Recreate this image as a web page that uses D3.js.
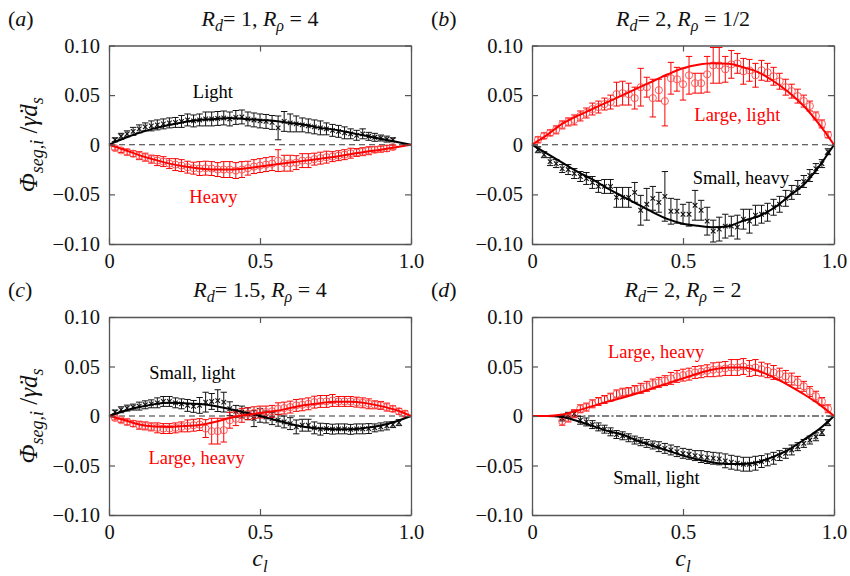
<!DOCTYPE html>
<html>
<head>
<meta charset="utf-8">
<script src="https://cdn.jsdelivr.net/npm/d3@7"></script>
<style>
  body { margin: 0; background: #fff; }
  svg { display: block; }
</style>
</head>
<body>
<svg id="fig" width="850" height="576"></svg>
<script>
// ---- data -------------------------------------------------------------
// sampling positions of the simulation data (c_l)
const cGrid = [0.02,0.04,0.06,0.08,0.10,0.12,0.14,0.16,0.18,0.20,0.22,0.24,0.26,0.28,0.30,0.32,0.34,0.36,0.38,0.40,
  0.42,0.44,0.46,0.48,0.50,0.52,0.54,0.56,0.58,0.60,0.62,0.64,0.66,0.68,0.70,0.72,0.74,0.76,0.78,0.80,
  0.82,0.84,0.86,0.88,0.90,0.92,0.94,0.96,0.98];
// positions of the continuum-model curves
const modelGrid = [0,0.05,0.10,0.15,0.20,0.25,0.30,0.35,0.40,0.45,0.50,0.55,0.60,0.65,0.70,0.75,0.80,0.85,0.90,0.95,1.0];

const yTicks = [-0.10,-0.05,0,0.05,0.10];
const xTicks = [0,0.5,1.0];

const panelLetters = ['a','b','c','d'];
const ratioD = ['1','2','1.5','2'];
const ratioRho = ['4','1/2','4','2'];

// (a) R_d = 1, R_rho = 4
const aLight = [.005,.0085,.011,.0135,.016,.018,.019,.020,.021,.022,
  .0225,.0235,.025,.024,.025,.026,.026,.0265,.027,.026,
  .0275,.028,.026,.025,.024,.0235,.0225,.017,.0235,.022,
  .021,.020,.019,.018,.017,.016,.0145,.0135,.012,.011,
  .0095,.011,.0085,.0075,.0068,.0057,.005];
const aLightErr = [.002,.003,.003,.004,.004,.004,.005,.005,.005,.005,
  .005,.006,.006,.006,.006,.007,.007,.007,.007,.007,
  .007,.007,.007,.007,.007,.007,.007,.012,.010,.009,
  .008,.007,.007,.007,.007,.006,.006,.006,.006,.005,
  .005,.005,.004,.004,.003,.003,.002];
const aHeavy = [-.0034,-.0057,-.0074,-.009,-.011,-.0125,-.0145,-.016,-.017,-.019,
  -.020,-.021,-.0226,-.0236,-.024,-.0236,-.024,-.025,-.025,-.025,
  -.026,-.025,-.0236,-.022,-.021,-.020,-.019,-.016,-.0186,-.0186,
  -.018,-.016,-.016,-.0145,-.0135,-.0125,-.012,-.011,-.010,-.0085,
  -.0078,-.007,-.006,-.005,-.0044,-.0037,-.0024];
const aHeavyErr = [.002,.002,.003,.003,.004,.004,.004,.005,.005,.005,
  .006,.006,.006,.006,.007,.007,.007,.007,.008,.008,
  .008,.008,.007,.007,.007,.007,.007,.011,.008,.008,
  .007,.007,.007,.006,.006,.006,.005,.005,.005,.005,
  .004,.004,.004,.003,.003,.003,.002];
const aLightModel = [0,.0065,.012,.0165,.020,.023,.025,.026,.027,.026,.025,.024,.022,.020,.017,.015,.012,.009,.006,.003,0];
const aHeavyModel = [0,-.005,-.0105,-.015,-.019,-.022,-.024,-.025,-.025,-.024,-.022,-.020,-.018,-.016,-.014,-.012,-.0095,-.007,-.005,-.0025,0];

// (b) R_d = 2, R_rho = 1/2
const bLarge = [.005,.009,.012,.015,.020,.023,.025,.029,.032,.036,
  .038,.041,.043,.051,.052,.051,.047,.058,.058,.047,
  .055,.044,.067,.066,.061,.070,.062,.062,.071,.080,
  .080,.076,.081,.082,.074,.075,.070,.075,.073,.069,
  .064,.058,.054,.049,.044,.039,.029,.021,.010];
const bLargeErr = [.003,.003,.003,.004,.004,.004,.005,.005,.005,.006,
  .006,.006,.007,.012,.012,.011,.011,.019,.010,.019,
  .011,.025,.016,.012,.016,.019,.010,.010,.018,.018,
  .018,.013,.014,.010,.013,.011,.012,.010,.009,.009,
  .008,.008,.007,.007,.006,.005,.004,.004,.003];
const bSmall = [-.005,-.010,-.017,-.019,-.024,-.025,-.029,-.032,-.034,-.038,
  -.042,-.042,-.042,-.053,-.053,-.053,-.048,-.066,-.060,-.054,
  -.058,-.052,-.067,-.067,-.070,-.070,-.061,-.066,-.077,-.087,
  -.085,-.082,-.082,-.083,-.075,-.077,-.071,-.070,-.068,-.063,
  -.060,-.054,-.048,-.043,-.037,-.031,-.024,-.019,-.007];
const bSmallErr = [.003,.003,.004,.004,.004,.005,.005,.005,.006,.006,
  .006,.007,.007,.010,.010,.010,.010,.015,.016,.012,
  .010,.025,.013,.012,.010,.012,.015,.010,.014,.011,
  .012,.012,.010,.012,.010,.012,.010,.009,.009,.008,
  .008,.008,.007,.007,.006,.006,.005,.004,.003];
const bLargeModel = [0,.010,.021,.029,.036,.043,.050,.057,.064,.071,.077,.0805,.082,.0815,.078,.073,.064,.053,.039,.021,0];
const bSmallModel = [0,-.009,-.018,-.027,-.035,-.044,-.052,-.060,-.068,-.075,-.0795,-.0816,-.083,-.082,-.0765,-.072,-.064,-.052,-.040,-.022,0];

// (c) R_d = 1.5, R_rho = 4
const cSmall = [.004,.0063,.008,.009,.010,.0113,.0123,.0133,.0147,.0147,
  .0133,.0123,.0107,.0097,.0107,.014,.0147,.0155,.014,.0073,
  .0047,.004,.0023,-.0027,.0007,-.001,-.0027,-.0043,-.006,-.0077,
  -.011,-.0093,-.0093,-.012,-.0133,-.0127,-.0133,-.013,-.013,-.0135,
  -.013,-.013,-.0127,-.012,-.011,-.010,-.0087,-.0067];
const cSmallErr = [.002,.003,.003,.003,.004,.004,.004,.005,.005,.005,
  .005,.005,.006,.006,.008,.010,.008,.011,.010,.007,
  .006,.006,.006,.008,.007,.006,.006,.006,.006,.006,
  .007,.006,.006,.006,.006,.005,.005,.005,.005,.005,
  .005,.005,.005,.004,.004,.004,.003,.003];
const cLarge = [-.002,-.0043,-.006,-.0077,-.0093,-.010,-.011,-.012,-.0127,-.0127,
  -.012,-.011,-.010,-.0093,-.0087,-.0127,-.0153,-.0153,-.0143,-.0043,
  -.0027,.0007,.0023,.0033,.004,.004,.0047,.0073,.008,.009,
  .0107,.0113,.0123,.014,.0147,.0147,.0157,.0147,.0147,.0147,
  .014,.0133,.0123,.0113,.0107,.009,.0073,.0047,.0023];
const cLargeErr = [.002,.002,.003,.003,.004,.004,.004,.005,.005,.005,
  .005,.005,.006,.006,.006,.009,.013,.013,.012,.008,
  .007,.007,.006,.006,.006,.006,.006,.006,.006,.006,
  .006,.006,.006,.006,.006,.006,.006,.005,.005,.005,
  .005,.005,.005,.004,.004,.004,.003,.003,.003];
const cSmallModel = [0,.005,.009,.012,.0133,.013,.012,.010,.007,.0035,0,-.004,-.008,-.011,-.0127,-.0135,-.0135,-.012,-.0095,-.0055,0];
const cLargeModel = [0,-.004,-.0085,-.0105,-.011,-.010,-.009,-.006,-.002,.001,.003,.005,.008,.011,.013,.0145,.0145,.013,.010,.006,0];

// (d) R_d = 2, R_rho = 2  (data start at c_l = 0.10)
const dLarge = [-.0053,-.002,.0023,.0073,.009,.0123,.0147,.0167,.019,.0223,
  .024,.0247,.0267,.028,.030,.0323,.034,.0357,.038,.040,
  .0413,.0423,.044,.0447,.0457,.0467,.0473,.048,.049,.049,
  .050,.048,.049,.0473,.0457,.044,.0423,.040,.0373,.034,
  .030,.0247,.020,.0147,.0073];
const dLargeErr = [.004,.004,.004,.004,.004,.004,.004,.004,.004,.004,
  .004,.004,.004,.005,.005,.005,.005,.005,.006,.006,
  .006,.006,.006,.006,.006,.007,.007,.007,.008,.008,
  .008,.008,.008,.007,.007,.007,.006,.006,.006,.006,
  .005,.005,.005,.004,.004];
const dSmall = [-.002,.0007,.0023,-.0043,-.006,-.0087,-.011,-.0133,-.016,-.0187,
  -.020,-.022,-.0243,-.026,-.0277,-.0293,-.031,-.0327,-.0343,-.036,
  -.0377,-.0387,-.040,-.041,-.042,-.0427,-.0433,-.0453,-.0467,-.0477,
  -.0487,-.0487,-.0477,-.046,-.0443,-.0427,-.040,-.0377,-.0343,-.031,
  -.0277,-.0243,-.021,-.0167,-.0067];
const dSmallErr = [.003,.003,.003,.004,.004,.004,.004,.004,.004,.004,
  .004,.004,.004,.004,.004,.004,.005,.005,.005,.005,
  .005,.005,.005,.006,.006,.006,.006,.007,.007,.007,
  .007,.007,.007,.006,.006,.006,.005,.005,.005,.004,
  .004,.004,.004,.003,.003];
const dLargeModel = [0,0,.0015,.0055,.010,.0145,.0185,.023,.028,.033,.038,.043,.047,.049,.049,.0455,.039,.031,.022,.012,0];
const dSmallModel = [0,0,-.001,-.005,-.010,-.015,-.019,-.025,-.030,-.035,-.040,-.044,-.047,-.0485,-.0485,-.0465,-.041,-.034,-.024,-.0135,0];

// ---- drawing ----------------------------------------------------------
const FONT = "'Liberation Serif','Times New Roman',Times,serif";
const RED = '#ff0000';
const svg = d3.select('#fig');

const panels = [
  { left: 109, right: 411, top: 45.5, bottom: 244, ylab: true, xlab: false,
    zeroDash: '6,4', zeroColor: '#333',
    series: [
      { c: cGrid.slice(0, 47), v: aLight, e: aLightErr, kind: 'cross' },
      { c: cGrid.slice(0, 47), v: aHeavy, e: aHeavyErr, kind: 'circle' }],
    models: [{ v: aLightModel, color: '#000' }, { v: aHeavyModel, color: RED }],
    notes: [{ text: 'Light', c: 0.344, v: 0.047, color: '#000' }, { text: 'Heavy', c: 0.346, v: -0.0587, color: RED }] },
  { left: 532, right: 834, top: 45.5, bottom: 244, ylab: false, xlab: false,
    zeroDash: '6,4', zeroColor: '#333',
    series: [
      { c: cGrid, v: bSmall, e: bSmallErr, kind: 'cross' },
      { c: cGrid, v: bLarge, e: bLargeErr, kind: 'circle' }],
    models: [{ v: bSmallModel, color: '#000' }, { v: bLargeModel, color: RED }],
    notes: [{ text: 'Large, light', c: 0.680, v: 0.0243, color: RED }, { text: 'Small, heavy', c: 0.692, v: -0.0395, color: '#000' }] },
  { left: 109, right: 411, top: 317, bottom: 515, ylab: true, xlab: true,
    zeroDash: '6,4', zeroColor: '#333',
    series: [
      { c: cGrid.slice(0, 48), v: cSmall, e: cSmallErr, kind: 'cross' },
      { c: cGrid, v: cLarge, e: cLargeErr, kind: 'circle' }],
    models: [{ v: cSmallModel, color: '#000' }, { v: cLargeModel, color: RED }],
    notes: [{ text: 'Small, light', c: 0.276, v: 0.0374, color: '#000' }, { text: 'Large, heavy', c: 0.290, v: -0.0485, color: RED }] },
  { left: 532, right: 834, top: 317, bottom: 515, ylab: false, xlab: true,
    zeroDash: '7,2.5,2,2.5', zeroColor: '#000',
    series: [
      { c: cGrid.slice(4), v: dSmall, e: dSmallErr, kind: 'cross' },
      { c: cGrid.slice(4), v: dLarge, e: dLargeErr, kind: 'circle' }],
    models: [{ v: dSmallModel, color: '#000' }, { v: dLargeModel, color: RED }],
    notes: [{ text: 'Large, heavy', c: 0.411, v: 0.0590, color: RED }, { text: 'Small, light', c: 0.412, v: -0.0687, color: '#000' }] }
];

const yFmt = v => v === 0 ? '0' : (v < 0 ? '\u2212' : '') + Math.abs(v).toFixed(2);
const xFmt = v => v === 0 ? '0' : v.toFixed(1);

function styleAxis(sel) {
  sel.attr('font-family', FONT);
  sel.select('.domain').attr('stroke', '#555').attr('stroke-width', 1.3);
  sel.selectAll('.tick line').attr('stroke', '#555').attr('stroke-width', 1.2);
  sel.selectAll('.tick text').attr('font-family', FONT).attr('font-size', 20.5).attr('fill', '#111');
}

panels.forEach((p, pi) => {
  const x = d3.scaleLinear().domain([0, 1]).range([p.left, p.right]);
  const y = d3.scaleLinear().domain([-0.1, 0.1]).range([p.bottom, p.top]);
  const g = svg.append('g');

  // zero reference line
  g.append('line')
    .attr('x1', x(0)).attr('x2', x(1)).attr('y1', y(0)).attr('y2', y(0))
    .attr('stroke', p.zeroColor).attr('stroke-width', 1.1).attr('stroke-dasharray', p.zeroDash);

  // simulation data with error bars
  p.series.forEach(s => {
    const color = s.kind === 'cross' ? '#111' : RED;
    const pts = s.v.map((v, i) => ({ c: s.c[i], v: v, e: s.e[i] }));
    const eg = g.append('g').attr('stroke', color).attr('stroke-width', 1).attr('fill', 'none');
    const cap = 3.2;
    eg.selectAll('path.bar').data(pts).join('path')
      .attr('d', d => {
        const px = x(d.c), y1 = y(d.v + d.e), y2 = y(d.v - d.e);
        return `M${px},${y1}V${y2}M${px - cap},${y1}H${px + cap}M${px - cap},${y2}H${px + cap}`;
      });
    if (s.kind === 'cross') {
      const r = 2.3;
      eg.selectAll('path.mk').data(pts).join('path')
        .attr('stroke-width', 1.1)
        .attr('d', d => {
          const px = x(d.c), py = y(d.v);
          return `M${px - r},${py - r}L${px + r},${py + r}M${px - r},${py + r}L${px + r},${py - r}`;
        });
    } else {
      eg.selectAll('circle').data(pts).join('circle')
        .attr('cx', d => x(d.c)).attr('cy', d => y(d.v)).attr('r', 3.6)
        .attr('stroke', '#ff4a4a').attr('stroke-width', 0.9);
    }
  });

  // continuum-model curves
  const line = d3.line().x((d, i) => x(modelGrid[i])).y(d => y(d)).curve(d3.curveMonotoneX);
  p.models.forEach(m => {
    g.append('path').attr('d', line(m.v)).attr('fill', 'none')
      .attr('stroke', m.color).attr('stroke-width', 2);
  });

  // frame with inward ticks on all sides
  g.append('g').attr('transform', `translate(${p.left},0)`)
    .call(d3.axisLeft(y).tickValues(yTicks).tickFormat(yFmt).tickSizeInner(-6).tickSizeOuter(0).tickPadding(9))
    .call(styleAxis);
  g.append('g').attr('transform', `translate(${p.right},0)`)
    .call(d3.axisRight(y).tickValues(yTicks).tickFormat('').tickSizeInner(-6).tickSizeOuter(0))
    .call(styleAxis);
  g.append('g').attr('transform', `translate(0,${p.bottom})`)
    .call(d3.axisBottom(x).tickValues(xTicks).tickFormat(xFmt).tickSizeInner(-6).tickSizeOuter(0).tickPadding(9))
    .call(styleAxis);
  g.append('g').attr('transform', `translate(0,${p.top})`)
    .call(d3.axisTop(x).tickValues(xTicks).tickFormat('').tickSizeInner(-6).tickSizeOuter(0))
    .call(styleAxis);

  // in-plot labels
  p.notes.forEach(n => {
    g.append('text').attr('x', x(n.c)).attr('y', y(n.v))
      .attr('text-anchor', 'middle').attr('font-family', FONT).attr('font-size', 18.5)
      .attr('fill', n.color).text(n.text);
  });

  // panel letter
  const lt = g.append('text').attr('x', p.left - 101).attr('y', p.top - 20)
    .attr('font-family', FONT).attr('font-size', 22).attr('fill', '#111');
  lt.append('tspan').text('(');
  lt.append('tspan').attr('font-style', 'italic').text(panelLetters[pi]);
  lt.append('tspan').text(')');

  // panel title
  const tt = g.append('text').attr('x', (p.left + p.right) / 2).attr('y', p.top - 20)
    .attr('text-anchor', 'middle').attr('font-family', FONT).attr('font-size', 22).attr('fill', '#111');
  tt.append('tspan').attr('font-style', 'italic').text('R');
  tt.append('tspan').attr('font-style', 'italic').attr('font-size', 16).attr('dy', 5).text('d');
  tt.append('tspan').attr('dy', -5).text('= ' + ratioD[pi] + ', ');
  tt.append('tspan').attr('font-style', 'italic').text('R');
  tt.append('tspan').attr('font-style', 'italic').attr('font-size', 16).attr('dy', 5).text('\u03C1');
  tt.append('tspan').attr('dy', -5).text(' = ' + ratioRho[pi]);

  // y-axis label
  if (p.ylab) {
    const yl = g.append('text')
      .attr('transform', `translate(${p.left - 72},${(p.top + p.bottom) / 2}) rotate(-90)`)
      .attr('text-anchor', 'middle').attr('font-family', FONT).attr('font-size', 25).attr('fill', '#111');
    yl.append('tspan').attr('font-style', 'italic').text('\u03A6');
    yl.append('tspan').attr('font-style', 'italic').attr('font-size', 18).attr('dy', 6).text('seg,i');
    yl.append('tspan').attr('dy', -6).text(' /');
    yl.append('tspan').attr('font-style', 'italic').text('\u03B3\u0307d');
    yl.append('tspan').attr('font-style', 'italic').attr('font-size', 18).attr('dy', 6).text('s');
  }

  // x-axis label
  if (p.xlab) {
    const xl = g.append('text').attr('x', (p.left + p.right) / 2).attr('y', p.bottom + 51)
      .attr('text-anchor', 'middle').attr('font-family', FONT).attr('font-size', 24).attr('fill', '#111');
    xl.append('tspan').attr('font-style', 'italic').text('c');
    xl.append('tspan').attr('font-style', 'italic').attr('font-size', 17).attr('dy', 6).text('l');
  }
});
</script>
</body>
</html>
